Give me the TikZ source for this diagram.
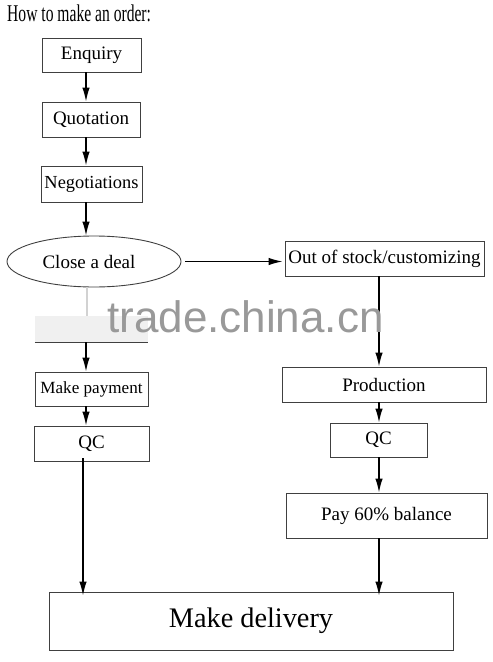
\documentclass[tikz,border=0pt]{standalone}
\usepackage{fontspec}
\setmainfont{Liberation Serif}
\newfontfamily\wmfont{Liberation Sans}
\usetikzlibrary{arrows.meta,shapes.geometric,calc}
\begin{document}
\begin{tikzpicture}[x=1pt,y=-1pt,
  box/.style={draw=black!75,line width=0.9pt,inner sep=0pt,rectangle,font=\fontsize{19}{22}\selectfont},
  arr/.style={line width=1.4pt,-{Latex[length=14pt,width=7.5pt]}},
  plain/.style={line width=1.4pt}]
\useasboundingbox (0,0) rectangle (493,662);
\fill[white] (0,0) rectangle (493,662);
% title
\node[anchor=base west,inner sep=0pt,font=\fontsize{24}{28}\selectfont] (title) at (7,21) {\scalebox{0.65}[1]{How to make an order:}};
% left column
\node[box,minimum width=99pt,minimum height=34pt] (enq) at (91.5,55) {Enquiry};
\node[box,minimum width=98pt,minimum height=35pt] (quo) at (91,119.5) {Quotation};
\node[box,minimum width=101pt,minimum height=36pt,font=\fontsize{18.4}{22}\selectfont] (neg) at (91.5,184) {Negotiations};
\node[draw=black!75,line width=0.9pt,ellipse,inner sep=0pt,minimum width=174pt,minimum height=51pt,font=\fontsize{19}{22}\selectfont] (deal) at (94,261.5) {\hspace*{-10pt}Close a deal};
\node[rectangle,fill=gray!12,inner sep=0pt,minimum width=113pt,minimum height=26pt] (hid) at (91.5,329) {};
\draw[black!75,line width=0.9pt] (hid.south west) -- (hid.south east);
\node[box,minimum width=113pt,minimum height=34pt,font=\fontsize{17.1}{20}\selectfont] (pay) at (91.5,389) {Make payment};
\node[box,minimum width=115pt,minimum height=35pt] (qca) at (91.5,443.5) {QC};
% right column
\node[box,minimum width=199pt,minimum height=35pt] (oos) at (384.5,258.5) {Out of stock/customizing};
\node[box,minimum width=204pt,minimum height=35pt] (prod) at (384,384.5) {Production};
\node[box,minimum width=97pt,minimum height=34pt] (qcb) at (378.5,440) {QC};
\node[box,minimum width=201pt,minimum height=45pt] (bal) at (386.5,515.5) {Pay 60\% balance};
% bottom
\node[box,minimum width=404pt,minimum height=58pt,font=\fontsize{28.3}{32}\selectfont] (del) at (251,621) {\raisebox{-2pt}{Make delivery}};
% guide coordinates
\coordinate (L) at (86,0);
\coordinate (LD) at (87,0);
\coordinate (LQ) at (83,0);
\coordinate (R) at (379,0);
% connectors
\draw[arr] (enq.south -| L) -- (quo.north -| L);
\draw[arr] (quo.south -| L) -- (neg.north -| L);
\draw[arr] (neg.south -| L) -- (deal.north -| L);
\draw[arr] ([xshift=4pt]deal.east) -- ([xshift=-2pt]oos.west |- deal.east);
\draw[line width=1.4pt,gray!35] (deal.south -| LD) -- (hid.north -| LD);
\draw[arr] (hid.south -| L) -- (pay.north -| L);
\draw[arr] (pay.south -| L) -- (qca.north -| L);
\draw[arr] ([yshift=3pt]qca.south -| LQ) -- ([yshift=-4pt]del.north -| LQ);
\draw[arr] (oos.south -| R) -- (prod.north -| R);
\draw[arr] (prod.south -| R) -- (qcb.north -| R);
\draw[arr] (qcb.south -| R) -- (bal.north -| R);
\draw[arr] (bal.south -| R) -- ([yshift=-4pt]del.north -| R);
% watermark
\node[anchor=base west,inner sep=0pt,text=gray!80,font=\wmfont\fontsize{44}{50}\selectfont] (wm) at (107,332) {trade.china.cn};
\end{tikzpicture}
\end{document}
